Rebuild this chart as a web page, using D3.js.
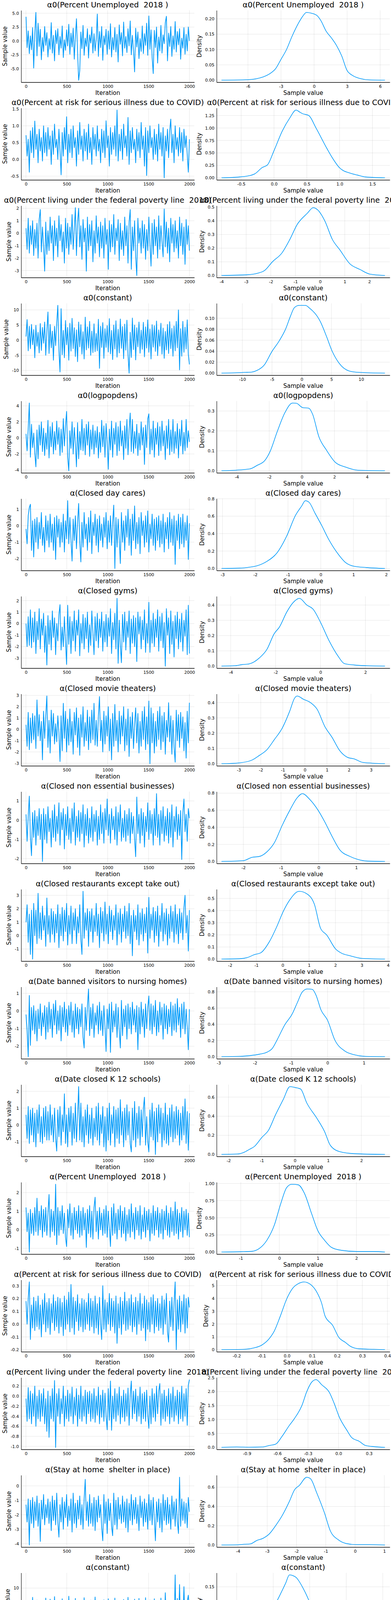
<!DOCTYPE html>
<html><head><meta charset="utf-8">
<script src="https://cdn.jsdelivr.net/npm/d3@7"></script>
<style>body{margin:0;background:#fff}svg{display:block;font-family:"DejaVu Sans",sans-serif}text{white-space:pre}</style>
</head><body><svg id="c" width="1000" height="7500"></svg>
<script>
const iterTickLabels=["0","500","1000","1500","2000"];
const titles=["α0(Percent Unemployed  2018 )","α0(Percent at risk for serious illness due to COVID)","α0(Percent living under the federal poverty line  2018)","α0(constant)","α0(logpopdens)","α(Closed day cares)","α(Closed gyms)","α(Closed movie theaters)","α(Closed non essential businesses)","α(Closed restaurants except take out)","α(Date banned visitors to nursing homes)","α(Date closed K 12 schools)","α(Percent Unemployed  2018 )","α(Percent at risk for serious illness due to COVID)","α(Percent living under the federal poverty line  2018)","α(Stay at home  shelter in place)","α(constant)","α(grocery and pharmacy percent change from baseline)","α(logpopdens)","α(parks percent change from baseline)","α(percentchangebusinesses)","α(residential percent change from baseline)","α(retail and recreation percent change from baseline)","α(transit stations percent change from baseline)","α(workplaces percent change from baseline)","γ","ρ","σR","σR0","σk"];

const trace01=[4.35,-1.2,1.8,-2.3,0.9,-1.6,2.4,-4.9,1.3,5.15,-2.7,3.2,-1.0,2.1,-3.4,0.6,-1.9,2.6,-0.8,1.5,-2.9,0.4,-1.5,3.3,-2.2,1.0,-3.6,1.9,-0.5,2.2,-2.5,0.8,-1.3,2.7,-3.0,0.2,-1.7,2.0,-0.9,3.0,-2.4,1.4,-1.1,2.3,-3.3,0.7,4.0,-2.0,-7.1,-5.35,1.6,-1.4,2.8,-2.6,0.5,-1.0,2.2,-3.1,1.1,-0.4,2.5,-2.2,1.3,-1.8,0.3,4.85,-2.8,1.7,-1.2,2.6,-3.5,0.9,-0.7,2.1,-2.4,1.8,-1.5,3.1,-2.9,0.6,-1.6,2.4,-2.0,1.2,-3.8,2.9,-0.6,1.5,-2.7,3.4,-1.3,0.8,-2.1,2.2,-0.9,3.6,-2.5,1.0,-1.7,-5.6,2.3,-1.1,1.6,-3.2,0.4,-1.9,2.7,-2.3,1.3,-0.8,3.2,-2.6,4.5,-1.5,2.0,-3.0,-5.9,1.9,-1.2,2.5,-4.0,0.7,-1.8,2.8,-2.2,1.1,-0.5,3.3,4.45,-3.6,1.4,-1.0,2.6,-2.8,0.9,-1.5,3.5,-2.0,1.7,-0.7,2.2,-3.3,0.5,-1.3,2.4,-2.4,1.2,-1.8,2.5,0.0];
const trace02=[0.72,0.1,0.6,-0.38,0.85,0.2,0.95,0.05,1.14,0.3,0.75,-0.1,0.9,0.25,0.65,-0.05,1.0,0.2,0.8,0.1,0.95,0.3,0.7,-0.15,0.85,0.15,1.05,0.35,0.6,0.0,0.9,0.25,-0.46,0.8,0.1,0.95,0.3,1.27,-0.1,0.75,0.2,0.9,0.05,1.0,0.35,0.65,-0.2,0.85,0.15,1.1,0.3,0.7,-0.05,0.9,0.25,0.8,0.0,1.05,0.2,0.65,-0.15,0.95,0.3,0.75,0.1,1.0,0.25,0.6,-0.1,0.9,0.2,0.85,0.05,1.15,0.35,0.7,-0.2,0.95,0.15,0.8,0.3,1.0,0.1,1.47,-0.05,0.75,0.25,0.9,0.0,1.05,0.35,0.7,0.1,1.25,-0.15,0.85,0.2,0.95,0.3,0.6,-0.1,0.9,0.25,0.8,0.05,1.1,0.3,0.7,-0.2,0.95,-0.48,0.85,0.2,1.0,0.35,0.65,0.0,0.9,0.15,0.75,-0.05,1.05,0.3,0.8,0.1,0.95,-0.55,0.7,0.25,0.9,0.05,0.85,1.2,0.2,0.75,-0.1,1.0,0.3,0.65,0.1,0.95,0.2,0.8,-0.05,0.9,0.35,0.7,0.15,-0.38,0.6];
const trace03=[0.4,-1.3,1.2,-1.6,0.6,-0.9,1.0,-1.8,0.3,-1.2,0.8,-2.0,1.1,1.9,-1.5,0.5,-1.1,-3.05,0.9,-1.7,0.2,-1.4,1.3,-0.8,0.6,-2.2,1.0,-1.0,0.4,-1.9,1.4,-0.6,0.7,-1.5,0.1,-2.4,1.2,-1.2,0.8,-1.7,0.5,-0.9,1.5,-1.3,0.3,2.05,-1.8,0.9,2.0,-1.1,0.6,-2.1,1.1,-0.7,0.4,-3.05,1.3,-1.4,0.7,-1.0,1.0,-2.3,0.2,-1.6,1.4,-0.8,0.5,-1.9,0.9,-1.2,0.6,-2.0,1.2,-0.9,0.3,-2.9,1.0,-1.5,0.7,-1.1,1.5,-1.7,0.4,-0.6,1.1,-2.2,0.8,-1.3,0.2,-1.8,1.3,-1.0,0.6,-2.4,0.9,1.9,-2.9,0.5,-1.4,1.0,-1.9,-3.4,1.2,-0.8,0.4,-1.6,1.0,-1.2,0.7,-2.1,0.3,-1.4,1.3,-0.9,-2.65,0.8,-1.7,1.1,-1.0,0.5,-2.0,1.4,-1.3,0.6,-0.7,-1.9,1.95,-1.1,0.9,-1.6,0.4,-2.3,1.2,-0.8,0.7,-1.5,1.0,-1.2,0.2,-2.0,1.3,-1.0,0.8,-1.7,0.5,-2.5,1.1,-0.9,0.6,-1.4];
const trace04=[1.2,6.8,-3.5,4.6,-2.8,5.2,-1.5,3.5,-5.8,4.9,-2.0,2.6,-4.2,5.5,-3.4,4.2,-1.0,6.0,-5.0,3.1,9.3,-4.4,5.2,-2.5,3.0,-6.6,4.6,-1.8,5.6,11.5,-3.6,-10.5,10.4,-4.8,3.2,-5.8,6.5,-1.5,4.2,-6.6,5.6,-3.6,7.2,-2.8,4.1,-5.4,3.4,-7.1,6.0,-2.2,5.1,-4.6,2.8,-6.2,7.6,-3.2,4.4,-2.6,6.2,-5.0,3.0,-4.1,5.4,-3.8,2.2,-3.5,6.9,-9.3,4.6,-2.4,5.8,-6.0,3.8,-2.4,4.8,-3.9,7.1,-4.5,3.2,-6.4,5.0,-2.9,6.4,-5.6,3.6,-4.2,7.0,-2.7,4.5,-6.1,5.3,-3.3,6.6,-4.9,-10.9,2.6,-5.7,7.3,-3.1,5.0,-6.5,4.1,-2.2,6.0,-4.3,3.3,-3.0,5.9,-5.5,4.4,-2.6,6.7,-4.0,3.7,-6.2,5.1,-2.3,4.8,-3.7,6.3,-5.1,3.4,-2.0,5.6,-4.6,4.0,-6.0,2.9,-3.2,5.2,-4.4,6.1,-2.8,3.9,-5.3,4.7,-3.5,6.2,-2.5,10.0,-9.8,3.8,-5.3,6.2,-4.0,4.3,-2.9,6.7,-4.8,-8.0];
const trace05=[0.5,-1.6,1.2,4.35,-2.4,1.7,-1.2,0.6,-1.9,-3.6,1.0,-2.6,1.6,-0.9,2.0,-1.7,1.2,-2.2,0.6,-1.4,2.2,-2.5,1.4,-1.1,1.9,-2.0,0.8,-1.5,2.1,-0.8,1.3,-2.2,1.1,-1.8,2.4,-1.0,1.5,3.3,-2.4,-4.1,0.9,-1.3,2.0,-2.0,1.3,-0.7,-3.6,1.9,-2.6,0.8,-1.5,2.3,-1.6,1.2,-2.1,1.7,-0.9,2.0,-2.3,1.0,-1.4,1.6,-2.0,0.9,-1.2,1.4,-2.5,0.7,-1.8,2.2,-1.1,1.5,-2.4,1.8,-0.6,-3.9,1.1,-1.5,2.1,-2.4,1.2,-0.8,1.9,-2.2,1.4,-1.6,2.1,-1.0,0.9,-2.7,1.5,-1.3,2.3,-2.1,1.0,3.1,-1.7,2.3,-1.9,0.8,-1.3,1.7,-2.2,0.6,-1.5,2.0,-0.9,1.3,-3.3,1.6,-1.2,2.4,3.0,-2.0,1.1,-1.5,2.1,-2.4,1.2,-0.8,1.9,-2.2,1.4,-1.6,2.1,-1.0,0.9,-2.7,1.5,-1.3,2.3,-2.1,1.0,-1.7,2.3,-1.9,0.8,-1.3,1.8,-2.5,1.1,-1.0,2.2,-2.0,0.7,-1.6,2.3,-1.2,0.9,-0.5];
const trace06=[-0.2,-1.1,0.6,1.1,1.3,-1.5,0.3,-1.9,0.4,-1.0,0.5,-1.4,0.2,-0.8,0.8,-1.2,-0.1,-1.6,0.6,-0.9,0.3,-1.3,0.7,-1.0,0.1,-1.5,0.5,-2.05,0.6,-0.7,0.4,-1.3,0.2,-1.0,0.7,-1.6,0.3,-0.8,1.52,-1.1,0.5,-0.9,-2.15,0.4,-0.9,0.6,-1.4,0.2,1.35,-1.0,-2.2,0.2,-1.3,0.8,-0.8,0.1,-1.5,0.5,-1.0,0.9,-1.7,0.2,-0.6,0.7,-1.2,0.4,-1.6,0.6,-0.9,0.1,-1.3,0.5,-0.7,0.8,-1.4,0.3,-1.0,0.6,-1.2,0.2,1.25,-2.6,0.5,-1.3,0.4,-0.8,-2.3,0.8,-1.0,0.3,-1.5,0.6,-0.7,1.0,-1.2,0.4,-1.8,0.7,-0.9,1.2,-1.4,0.2,-1.1,0.5,-1.7,0.8,-0.6,0.3,-1.3,0.6,-1.0,0.9,-1.6,0.1,-0.8,0.7,-1.2,0.4,-1.5,0.5,-0.9,0.6,-1.3,0.3,-1.1,0.7,-1.6,0.2,-0.8,0.5,-1.4,0.8,-1.0,0.4,-1.2,0.6,-2.35,0.3,-0.9,0.7,-1.4,0.5,-1.1,0.7,-1.3,0.2,-0.9,0.6,-2.05,0.15];
const trace07=[0.0,-2.0,0.6,-1.9,1.2,-2.1,0.5,-1.6,1.0,-2.6,0.2,-1.4,1.3,-2.2,0.4,-1.0,0.9,-2.5,-0.2,-3.6,0.7,-1.8,0.3,-2.3,1.1,-1.2,0.5,-2.7,0.0,-1.5,0.8,1.65,-2.3,-0.3,-2.0,0.6,-1.6,-3.55,1.6,-1.8,0.6,-2.6,0.2,-1.5,1.1,-2.4,0.3,-1.0,1.2,-2.8,0.0,-1.7,0.8,-2.2,0.5,-1.3,1.0,-2.5,-0.1,-1.9,1.1,-0.8,-2.7,0.6,-1.5,0.9,-2.1,0.4,-1.2,1.0,-2.4,0.2,-1.6,0.8,-2.0,0.5,-1.1,1.3,-2.6,0.1,-1.4,0.9,-2.2,2.2,-3.45,0.3,-1.9,-3.4,0.8,-1.6,1.0,-2.3,0.2,-1.2,1.1,-2.6,0.4,-1.7,0.7,-2.0,0.5,-3.3,1.0,-0.9,0.6,-2.2,0.3,-1.4,1.2,-2.5,0.0,-1.7,1.85,-2.5,0.3,-1.7,0.9,-2.0,0.4,-1.2,1.2,-2.4,0.6,-1.5,0.9,-2.1,0.1,-3.7,1.3,-1.0,0.5,-2.6,1.1,-1.8,0.2,-2.9,0.7,-1.3,1.0,-2.2,0.4,-1.6,0.9,-2.4,0.3,-1.1,1.2,-2.7,1.6,-2.6];
const trace08=[0.4,-1.5,1.5,-1.8,1.0,-1.2,1.4,-0.9,1.2,-1.7,2.6,-0.6,1.3,-1.0,0.7,-2.7,1.6,-0.8,1.2,2.95,-1.6,0.8,-2.1,1.7,-0.6,1.4,-1.3,0.5,-1.1,1.2,-0.3,-2.85,1.2,-1.9,2.3,-0.8,1.6,-2.0,0.9,-1.4,1.8,-1.1,0.7,-2.2,1.5,-0.5,1.9,-1.6,1.0,-2.3,1.3,-0.7,2.0,-1.5,0.6,-1.0,1.7,-1.8,1.1,-1.2,1.7,-0.9,2.3,-1.4,0.8,-1.5,1.2,2.9,-1.0,0.8,-2.0,1.6,-1.3,1.2,-0.6,2.0,-1.9,0.9,-2.7,1.4,-1.5,2.2,-1.0,0.8,-2.0,1.6,-1.3,1.2,-0.6,2.0,-1.9,0.9,-1.4,1.8,-2.4,1.1,-0.8,1.5,-1.7,0.5,1.9,-1.2,1.4,-2.1,0.7,-1.5,1.6,-0.9,2.0,-1.8,1.1,-1.3,2.5,-3.05,1.9,-1.2,1.4,-2.1,0.7,-1.5,1.6,-0.9,2.0,-1.8,1.2,-1.1,1.5,-2.2,0.8,-0.7,2.35,-1.1,1.2,-2.2,0.8,-1.6,-2.9,1.7,-1.0,1.3,-1.6,1.5,-0.8,1.1,-1.9,0.6,-2.55,1.6,-1.2,2.35];
const trace09=[0.3,-1.1,0.2,1.25,-0.9,-1.85,0.4,-0.9,0.5,-1.3,0.2,-0.8,0.6,-1.0,0.3,-2.15,0.6,-1.0,0.3,-1.2,0.7,-0.6,0.1,-1.4,0.5,-0.9,0.8,-1.1,0.2,-0.7,0.9,-1.3,0.4,-0.5,0.6,-1.5,0.3,-0.8,0.7,-1.0,0.1,-1.2,0.6,-0.6,0.9,-1.3,0.2,-0.9,0.5,-1.1,0.4,-0.7,0.8,-1.4,0.3,-0.8,0.6,-1.2,0.1,-0.9,0.7,-1.1,0.3,-0.6,0.5,-1.3,0.2,-1.0,0.8,-0.7,0.4,-1.2,0.6,-0.5,1.1,-0.8,0.3,-1.2,0.6,-0.5,0.2,-1.0,0.7,-1.3,0.4,-0.6,0.8,-1.1,0.1,-0.9,0.5,-1.1,0.3,-0.8,0.6,-1.2,0.4,-0.7,0.2,-1.0,-1.9,1.2,-0.7,0.3,-1.2,0.6,-0.8,0.4,-1.4,0.2,-0.6,0.9,-1.0,0.5,-0.7,0.3,-1.3,0.6,-0.8,1.38,-0.9,0.3,-1.3,0.5,-0.7,0.7,-1.1,0.2,-0.8,0.6,-1.2,0.4,-0.9,0.8,-1.4,0.2,-0.6,0.7,-1.0,0.3,-0.8,0.5,-2.05,0.4,1.1,-0.6,0.3,-1.1,0.6,0.1];
const trace10=[1.0,2.3,-0.5,1.6,-1.4,1.9,-1.75,2.4,0.0,1.9,-0.6,3.15,-0.2,1.7,-0.3,2.2,0.4,1.5,-0.8,2.8,0.1,1.5,-0.5,2.0,0.1,1.8,-0.5,1.6,0.2,2.3,-0.9,1.6,0.0,2.1,-0.4,1.9,0.3,2.4,-0.7,1.5,0.1,2.2,-0.6,1.7,0.4,2.0,-0.6,1.4,0.2,2.3,-0.3,-1.4,3.3,-0.2,1.7,0.4,2.0,-0.8,1.8,0.3,2.0,-0.5,1.5,0.3,2.4,0.0,1.6,-0.9,2.1,0.2,1.8,-0.4,2.5,0.1,1.6,-0.6,2.2,0.3,1.9,-0.3,1.5,0.4,2.3,-0.7,1.7,0.1,2.0,-0.5,1.6,0.3,2.2,-0.2,1.8,0.0,2.4,-0.6,1.5,-1.5,1.9,0.3,1.5,-0.3,2.3,-0.7,1.7,0.1,2.0,-0.4,1.6,0.2,2.1,-1.3,2.85,-0.2,1.6,0.4,2.1,-0.5,1.8,0.0,2.2,-0.8,1.5,0.3,2.4,-0.4,1.7,0.1,2.0,-0.7,1.6,-0.2,2.2,0.3,1.8,-0.5,2.3,0.1,1.6,-0.6,2.0,0.2,1.7,-0.3,2.1,3.0,0.2,1.5,-1.15,1.9];
const trace11=[-0.2,-1.1,-2.6,0.88,-1.95,0.2,-1.1,0.3,-1.3,0.0,-1.7,0.1,-1.0,0.4,-1.4,-0.1,-0.9,0.3,-1.6,0.2,-1.2,0.5,-1.0,0.1,-1.5,0.4,-0.8,0.6,-1.3,0.0,-1.1,0.3,-1.7,0.2,-0.9,0.5,-1.2,0.1,-1.4,0.3,-0.8,0.5,-1.2,0.0,-1.5,0.4,-1.0,0.2,-1.3,0.1,-0.9,0.4,-1.5,-2.1,0.2,-1.1,0.3,1.25,-1.4,0.2,-1.0,0.4,-1.5,-0.1,-0.8,0.3,-1.3,0.5,-1.1,0.0,-1.4,0.3,-0.9,-2.3,0.1,-1.0,0.4,-2.35,0.5,-1.2,0.0,-0.9,0.4,-1.5,0.2,-1.1,-2.1,0.6,-1.4,0.1,-0.9,0.3,-1.6,0.4,-1.0,0.2,-1.3,0.5,-0.8,0.1,-1.2,0.3,-2.2,0.2,-1.3,0.5,-0.9,0.1,-1.5,0.4,-1.0,0.2,0.85,-1.1,0.4,-1.3,0.3,-0.9,0.6,-1.4,0.0,-1.2,0.5,-0.8,0.2,-1.6,0.4,-1.0,0.3,-1.3,0.1,-0.9,0.5,-1.4,0.3,-1.1,0.4,-1.2,0.7,-0.8,0.2,-1.5,0.4,-1.0,0.5,-1.3,0.1,-0.9,-2.2,0.1];
const trace12=[0.6,-0.8,1.1,-1.1,0.9,-0.6,1.0,-1.0,0.7,-1.3,0.9,-0.5,1.2,-1.0,0.5,-1.1,1.0,-0.7,1.1,-0.9,0.8,-0.9,1.2,-0.6,0.6,-1.0,1.0,-0.8,-1.55,0.9,-0.7,1.1,-1.2,0.6,-0.4,1.85,-1.1,0.6,-1.3,1.0,-0.4,1.1,-1.2,0.7,-0.8,1.3,-1.0,0.5,2.28,-0.9,1.3,-1.0,0.5,-1.3,0.9,-0.6,1.2,-1.1,0.6,-0.8,1.0,-1.2,0.4,-0.7,1.1,-0.9,1.3,-1.2,0.6,-0.5,1.1,-1.3,0.5,-1.55,1.0,-0.9,1.3,-1.2,0.6,-0.5,1.1,-1.3,0.9,-0.8,1.0,-1.1,1.5,-0.6,0.8,-1.3,1.0,-0.9,1.2,-0.6,0.8,-1.1,-1.6,1.0,-0.9,1.4,-1.3,0.7,-0.8,1.1,-1.2,0.9,-0.7,1.0,1.65,-1.2,0.5,-1.0,-1.6,0.9,-0.7,1.3,-0.9,0.8,-1.75,1.0,-1.0,1.2,-0.5,1.0,-1.3,0.7,-0.9,1.3,-1.1,0.6,-1.2,1.0,-0.7,1.2,-1.0,0.8,-0.8,1.1,-0.6,0.9,-1.2,0.7,-0.9,1.1,-0.6,1.55,-1.1,0.8,-1.5,0.7];
const trace13=[1.2,-0.1,0.9,-1.2,1.1,-0.2,0.9,-0.3,1.2,-0.1,1.7,-0.3,1.0,0.0,1.3,-0.4,1.1,-0.1,1.2,-0.3,0.9,1.9,-0.4,1.1,-0.1,1.0,-0.3,2.45,-0.8,1.2,-0.3,1.0,0.0,1.3,-0.2,0.9,-0.4,-0.9,1.1,0.1,1.4,-0.3,0.9,-0.5,1.2,0.0,1.0,-0.2,1.3,-0.4,1.0,-0.3,1.2,0.0,0.9,-0.95,1.1,-0.2,1.3,-0.4,1.0,-0.5,1.2,1.75,-0.1,1.0,-0.5,1.2,0.0,0.9,-0.3,1.1,-0.2,1.3,-0.4,1.0,0.1,-0.9,1.2,-0.3,1.4,-0.2,0.9,-0.5,1.1,0.0,1.3,-0.4,1.0,-0.2,1.2,-0.6,0.8,-0.2,1.1,-0.4,1.4,-0.1,0.9,-0.5,1.2,0.0,1.0,-0.3,1.3,-0.5,0.8,-0.1,1.2,-0.4,1.0,0.0,1.1,-0.6,0.9,-0.2,1.3,-0.3,1.0,0.0,1.2,-0.4,0.9,-0.2,1.1,-0.5,1.0,0.0,1.3,-0.3,0.9,-0.4,1.2,-0.1,1.0,-0.3,1.5,-0.2,1.1,-0.5,0.9,-0.1,1.2,-0.4,1.0,0.0,1.1,-0.3,0.9,-0.4];
const trace14=[0.18,0.0,0.2,0.33,-0.12,0.15,-0.03,0.21,-0.05,0.18,-0.02,0.22,-0.04,0.15,-0.1,0.19,0.0,0.24,-0.06,0.17,-0.03,0.2,-0.08,0.16,0.01,0.23,-0.05,0.18,-0.02,0.21,-0.07,0.2,-0.02,0.17,-0.09,0.22,-0.04,0.19,0.0,0.25,-0.06,0.31,-0.03,0.21,-0.08,0.18,0.02,0.23,-0.05,0.16,-0.02,0.2,-0.06,0.19,-0.04,0.17,0.0,0.24,-0.05,0.2,-0.02,0.18,-0.07,0.22,-0.03,0.16,-0.08,0.21,0.0,-0.12,0.3,-0.04,0.19,-0.06,0.17,0.0,0.24,-0.05,0.2,-0.02,0.18,-0.07,0.22,-0.15,0.16,-0.03,0.21,-0.08,0.18,0.0,0.25,-0.05,0.18,-0.04,0.2,-0.01,0.23,-0.06,0.17,-0.02,0.21,-0.08,0.18,0.0,0.24,-0.05,0.16,-0.03,0.22,-0.13,0.19,-0.04,0.17,-0.06,0.21,0.0,0.23,-0.07,0.18,-0.02,0.2,-0.05,0.16,-0.03,0.22,-0.08,0.19,0.0,0.24,-0.06,-0.14,0.18,-0.02,0.21,-0.05,0.17,0.33,-0.2,0.19,-0.04,0.22,-0.06,0.18,0.0,0.23,-0.07,0.2,-0.03,0.21,0.13];
const trace15=[-0.05,-0.5,0.17,-0.45,0.1,-0.55,0.05,-0.4,0.2,-0.6,0.0,-0.45,0.12,-0.5,0.05,-0.4,0.15,-0.55,-0.05,-0.7,0.1,-0.82,0.0,-0.45,0.15,-0.5,0.31,-1.02,0.05,-0.4,0.15,-0.55,-0.05,-0.35,0.2,-0.6,0.0,-0.45,0.12,-0.5,0.05,-0.4,0.18,-0.55,-0.02,-0.38,0.15,-0.6,0.02,-0.45,0.2,-0.5,0.0,-0.4,0.12,-0.55,0.08,-0.35,0.1,-0.5,0.05,-0.45,0.15,-0.52,0.0,-0.38,0.18,-0.55,0.02,-0.42,0.12,-0.5,0.06,-0.4,-0.67,0.15,-0.48,0.3,-0.68,0.0,-0.45,0.15,-0.5,0.05,-0.38,0.18,-0.55,0.0,-0.42,0.12,-0.5,0.05,-0.4,0.16,-0.58,0.02,0.3,-0.45,0.1,-0.35,0.14,-0.5,0.0,-0.4,0.18,-0.55,0.05,-0.45,0.08,-0.5,0.12,-0.38,-0.64,0.0,-0.55,0.15,-0.42,0.05,-0.5,0.2,-0.35,0.1,0.25,-0.58,0.05,-0.45,0.12,-0.5,0.0,-0.4,0.15,-0.55,0.05,-0.42,0.18,-0.5,0.0,-0.38,0.12,-0.55,0.08,-0.45,0.2,-0.5,0.05,-0.4,0.15,-0.58,0.22,0.33];
const trace16=[-1.3,-2.5,-0.9,-4.1,-1.0,-2.6,-0.8,-2.9,-1.1,-2.4,-0.7,-2.8,-1.2,-3.85,-1.0,-2.3,-0.6,-2.7,-1.3,-2.2,-0.9,-2.6,-1.1,-3.1,-0.7,-2.4,-1.0,-2.7,-0.5,-2.5,-3.55,-1.3,-2.5,-0.8,-3.0,-1.1,-2.2,-0.6,-2.8,-1.4,-2.4,-0.9,-3.2,-0.5,-2.6,-1.2,-2.9,-1.0,-2.3,-0.7,-2.7,-1.3,-3.0,-0.9,0.45,-2.4,-1.1,-2.8,-0.6,-2.6,-1.2,-2.8,-0.8,-3.1,-1.0,-2.5,-0.7,-2.2,-1.3,-2.9,-3.8,-0.6,-2.6,-1.1,-3.3,-0.9,-2.4,-1.2,-2.8,-3.45,-0.5,-2.7,-1.0,-3.0,-0.8,-2.3,-1.3,-2.6,-0.7,-2.5,-1.1,-2.9,-0.9,-3.2,-1.2,-2.4,-0.6,-2.7,-1.0,-2.3,-0.8,-2.6,-1.3,-3.1,-0.7,-2.2,-1.1,-2.8,-0.9,-2.5,-1.2,-3.0,-0.6,-2.4,-1.0,-2.7,-0.8,-2.3,-3.8,-1.1,-2.5,-0.9,-2.9,-1.2,-3.2,-0.6,-2.4,-1.0,-2.7,-0.8,-2.6,-1.3,-3.0,-0.7,-2.3,-1.1,-2.8,-0.9,-2.5,-3.3,0.6,-2.8,-0.9,-2.4,-1.1,-2.6,-1.2,-2.9,-0.8,-1.8];
const trace17=[3.5,-0.3,6.3,-1.2,5.4,0.2,7.4,-2.2,5.9,0.6,6.6,-1.6,4.8,-2.9,6.1,0.3,5.2,-1.0,7.2,-0.4,5.8,0.0,6.9,-1.8,5.1,1.0,7.6,-1.4,6.0,-0.6,-4.2,5.5,-2.1,7.0,0.8,6.2,-1.1,4.9,-2.6,7.7,0.4,6.4,-1.5,5.3,-0.2,7.1,-2.3,5.7,1.1,6.5,-1.9,5.0,-0.8,7.3,0.3,6.0,-2.7,5.4,-0.5,6.6,-1.3,5.6,0.5,7.5,-2.0,5.2,-0.7,6.3,-1.6,4.7,0.9,6.7,-0.9,5.9,-2.4,7.0,0.1,5.5,-1.4,6.1,-0.3,7.2,-2.2,5.8,0.6,6.4,-1.8,5.1,-0.1,6.8,-4.7,5.3,-1.0,7.4,0.2,6.0,-2.5,5.7,-0.6,6.9,-1.5,5.2,0.7,7.1,-2.1,6.2,-0.4,5.6,-1.2,7.3,-3.0,5.9,0.4,6.6,-1.7,5.4,-0.2,7.0,-2.0,6.1,0.3,5.5,-1.1,7.2,-0.8,6.3,-2.4,8.7,0.5,6.0,-1.3,-3.3,5.8,0.6,6.4,-1.5,13.7,-5.3,7.1,-0.9,11.0,-1.8,6.6,0.2,10.4,-0.9,-3.0,6.2,8.0,3.0];
const trace18=[-1.0,-4.9,0.7,-3.6,0.4,-4.2,-0.2,-3.1,0.6,-3.8,0.1,-4.5,-0.5,-6.5,1.3,-4.0,2.2,-3.5,0.8,-4.6,-0.4,-3.0,1.0,-3.7,0.2,-4.8,-0.6,-3.3,1.2,-3.2,0.3,-4.9,-0.3,-3.4,0.5,-4.0,-0.2,2.35,-3.6,1.1,-4.4,0.4,-3.1,-0.7,-4.2,1.5,-3.8,0.9,-4.5,-0.4,-3.3,0.2,-4.7,-0.6,-3.5,1.3,2.8,-6.6,0.0,-3.9,0.6,-4.4,-0.3,-3.2,1.0,-4.8,-0.2,-3.6,-6.7,0.7,-4.0,1.2,-3.4,0.3,-4.3,-0.5,-3.7,-5.8,-5.9,0.8,-3.2,-0.1,-4.1,1.1,-3.5,0.4,2.6,-4.4,-0.3,-3.0,1.3,-3.9,0.0,-4.6,0.5,-3.3,-0.6,-4.2,0.9,-3.6,0.2,-4.8,-0.4,-3.1,1.2,-4.0,-0.1,-3.7,0.6,-4.5,0.3,-3.4,1.0,-4.3,-0.5,-3.8,0.7,-4.1,0.1,-6.25,0.4,-3.5,-0.2,-4.6,1.1,-3.2,0.0,3.4,-4.4,0.8,-3.7,-0.3,-4.2,1.2,-3.3,0.5,-4.7,-0.6,-3.6,0.9,-4.0,0.2,-3.4,1.0,-4.5,-0.1,-3.1,0.6,-3.9,-2.5];
const trace19=[0.95,0.4,1.05,0.35,1.3,0.45,1.0,0.3,1.1,0.5,0.95,0.25,1.15,0.4,1.0,0.3,1.2,0.45,0.9,1.82,0.35,1.05,0.5,1.2,0.25,1.0,0.4,1.1,0.3,1.25,1.52,0.35,1.05,0.5,1.2,0.3,0.95,0.45,1.15,0.25,1.0,0.4,1.1,0.3,1.25,0.1,0.95,0.5,0.07,1.1,1.72,0.35,1.05,0.5,1.2,0.3,0.95,0.45,1.1,0.3,1.15,0.4,0.0,1.65,0.35,1.05,0.25,1.2,0.45,0.9,0.3,1.15,0.4,1.05,0.25,1.2,0.5,0.95,0.35,1.1,0.3,1.3,0.45,1.0,0.35,1.15,0.25,1.05,0.5,1.2,0.4,0.95,0.3,1.1,0.45,1.25,0.35,1.05,0.3,1.0,0.4,1.2,0.3,1.1,0.5,0.95,0.35,1.2,0.45,1.0,0.3,1.15,0.4,1.45,0.35,1.05,0.5,0.9,-0.02,1.0,0.4,1.2,0.3,1.1,0.5,0.95,0.35,1.2,0.45,1.0,0.3,1.15,0.4,1.05,0.35,1.2,0.5,0.95,0.4,1.1,0.35,1.05,0.3,1.2,0.45,1.0,0.4,1.1,0.5,0.8];
const trace20=[0.05,-0.6,0.1,-0.65,0.4,-0.85,0.2,-0.5,0.3,-0.7,0.8,-0.4,0.25,-0.55,0.5,-0.6,0.15,-0.75,0.35,1.12,-1.0,0.25,-0.45,0.6,-0.8,0.2,-0.5,0.45,-0.65,0.1,-0.7,0.4,-0.5,0.3,-0.7,0.55,-0.4,0.15,-0.85,0.4,-0.55,0.25,-0.6,-0.98,0.45,-0.5,0.1,-0.75,0.35,-0.45,0.6,-0.7,0.2,-0.5,0.45,-0.65,0.1,0.8,-1.0,0.25,-0.55,0.45,-0.6,0.1,-0.75,0.35,-0.45,0.6,-0.7,0.2,-0.5,0.3,-0.65,0.5,-0.4,0.15,-0.8,-1.02,1.05,-0.5,0.3,-0.65,0.5,-0.4,0.15,-0.8,0.4,-0.55,0.25,-0.7,0.6,-0.45,0.2,-0.5,0.45,-0.6,0.1,-0.75,0.35,-1.17,0.2,-0.5,0.45,-0.6,0.1,-0.75,0.35,-0.45,0.5,-0.65,0.2,-0.85,0.4,-0.5,0.3,-0.7,0.55,-0.4,0.15,-0.6,0.35,-0.8,0.25,-0.5,0.45,-0.55,0.2,-0.65,0.7,-0.4,0.3,-0.7,0.5,-0.45,0.2,-0.6,0.35,-0.5,0.4,-1.12,0.2,-0.65,0.5,-0.55,0.3,-0.75,0.35,-0.4,0.25,0.35];
const trace21=[1.5,-0.9,2.0,-1.4,1.2,-2.6,1.8,-1.1,1.7,3.6,-0.5,2.2,-1.8,1.0,-1.2,2.6,-0.7,1.5,-2.2,2.0,-1.0,1.6,-1.5,2.3,-0.8,1.8,-2.0,1.1,-1.3,2.5,4.85,-3.1,1.4,-1.5,2.3,-0.8,1.8,-2.2,1.1,-1.3,-2.7,2.5,-0.6,1.6,-2.0,2.1,-1.1,1.9,-1.6,1.3,-0.9,2.4,-2.3,1.7,3.5,-1.0,2.0,-1.5,1.2,-2.4,2.2,-0.7,1.6,-1.2,2.5,-0.6,1.8,-2.1,1.3,-1.2,2.2,-0.9,1.9,-1.7,2.4,-3.3,1.5,-2.1,2.0,-1.0,3.6,-0.8,2.3,-1.9,1.4,-1.1,2.1,-1.6,1.7,-1.4,-3.3,1.6,-1.4,2.5,-0.6,1.8,-2.0,1.3,-1.2,-2.8,2.2,-0.9,1.9,-1.7,2.4,-0.7,1.5,-2.1,2.0,-1.0,1.7,-1.6,2.3,-0.8,1.4,-2.0,2.6,-1.1,1.6,-1.4,2.1,-0.6,1.8,-1.8,2.4,-1.2,1.5,-2.3,1.9,-0.9,2.2,-1.5,1.3,-2.0,2.1,-0.7,1.7,-1.9,2.4,-1.1,1.6,-1.6,2.0,-2.85,3.6,-1.2,3.7,-1.9,1.4,0.6];
const trace22=[4.8,-1.0,5.8,-3.3,6.9,-0.5,5.5,-2.6,7.2,0.2,6.0,-2.0,6.4,-1.2,7.4,-0.2,5.6,10.0,-2.4,6.8,-4.5,5.2,-4.8,7.1,-0.8,6.2,-2.2,5.4,0.0,7.6,-1.5,6.5,-2.9,5.0,-0.4,6.9,-1.9,-4.0,7.3,0.3,5.7,-2.7,6.6,-1.0,8.2,-0.6,5.9,-2.3,6.3,-1.4,7.0,-2.3,6.1,0.1,8.0,-1.7,5.3,-2.9,6.7,-0.3,7.8,-1.2,5.8,-2.5,8.6,0.4,6.0,-1.8,7.5,-0.9,5.4,-2.6,6.9,-3.8,8.4,-1.3,6.2,-2.1,7.3,-0.5,9.5,-1.6,6.5,-2.8,6.4,0.0,8.9,-1.6,6.7,-0.9,7.1,-2.4,5.9,-1.1,7.8,-2.8,6.4,0.0,8.2,-1.6,6.7,-2.0,5.6,-1.1,7.8,-2.8,6.4,0.0,8.9,-1.6,6.7,-0.9,7.3,-2.2,5.8,-1.4,8.0,-0.5,6.3,-2.6,7.0,10.7,-0.8,6.1,-1.9,7.7,-0.2,5.5,-2.3,6.8,-7.4,13.7,-5.9,5.6,-1.1,7.8,-2.8,6.4,0.0,8.9,-1.6,6.7,-0.5,7.2,-2.1,6.0,-1.0,7.5,9.0,-0.9];
const trace23=[3.2,-2.4,3.8,-1.6,4.2,-2.8,5.0,-1.9,2.9,-1.4,-4.3,3.6,-3.2,2.4,-1.2,5.1,-2.6,3.3,-3.5,2.0,-1.4,4.0,-2.9,3.1,-1.0,3.7,-3.8,2.6,-2.0,4.4,-1.5,3.0,-3.1,2.2,-2.5,3.8,-1.3,4.1,-3.4,2.7,-2.2,3.5,-1.1,4.6,-2.7,3.0,-1.8,3.9,-2.4,5.9,-1.6,3.2,-2.1,4.3,-1.4,2.9,-3.3,3.6,-2.6,4.0,-1.2,3.4,-2.8,3.1,-1.7,4.5,-3.0,2.6,-2.3,3.4,8.1,-2.0,3.7,-1.5,4.2,-3.6,2.8,-2.2,3.9,-4.4,3.3,6.2,-1.9,-5.7,4.0,-2.4,2.9,-4.9,3.5,-1.2,3.6,-2.8,3.1,-1.7,4.5,-3.0,2.6,-2.3,3.4,-2.0,3.7,-1.5,4.2,-3.6,7.4,-2.2,3.9,-1.0,3.3,-2.7,3.3,-1.9,4.0,-2.4,2.9,-5.2,3.5,-1.2,6.0,-2.0,3.7,-1.5,4.2,-3.6,2.8,-2.2,3.9,-1.0,3.3,-2.7,3.3,-1.9,4.0,6.9,-2.4,2.9,-3.1,3.5,-1.2,4.1,-2.5,3.1,-1.6,3.8,-2.9,2.7,-4.6,3.5,-1.2,3.3];
const trace24=[5.8,1.1,5.6,-0.3,7.0,1.5,6.1,2.0,7.8,0.5,9.2,-1.5,6.5,1.8,7.2,0.8,6.0,2.2,7.5,0.9,6.3,1.4,7.7,0.3,6.8,1.6,7.1,2.3,5.9,1.2,7.4,0.7,6.6,2.0,7.9,0.6,6.2,-2.7,7.3,1.7,6.9,2.1,-0.7,7.6,1.0,6.4,1.5,7.1,0.4,10.15,1.2,6.7,2.2,7.8,0.9,6.3,1.9,7.0,1.3,6.5,0.8,7.2,1.6,6.8,2.0,7.4,1.1,6.1,1.8,7.7,0.6,6.9,2.3,7.3,0.3,6.4,1.4,7.0,0.9,7.6,1.7,6.2,0.7,7.9,-1.2,6.7,1.5,7.1,0.4,6.6,2.0,7.4,-0.5,6.8,1.2,7.2,1.6,6.0,2.1,8.3,0.8,6.5,1.9,7.6,1.0,6.3,2.2,7.0,0.5,6.9,1.4,7.7,0.9,6.4,2.0,7.3,1.1,6.6,1.7,7.5,0.6,6.8,2.3,7.1,1.3,6.2,0.8,7.8,1.5,6.7,2.1,7.2,0.3,6.5,1.6,7.6,1.0,6.9,1.9,8.5,-0.9,7.1,1.2,6.4,10.1,2.0,7.3,1.4,6.2,1.9];
const trace25=[3.2,-0.5,3.9,-0.9,4.7,-1.3,-2.5,3.6,0.2,4.3,-1.6,5.2,-0.4,3.4,-1.9,4.8,0.1,3.7,-1.1,5.0,-0.8,4.5,-1.5,3.9,0.3,4.4,-1.0,5.0,-1.7,6.2,0.0,4.6,-1.2,5.3,-0.6,3.8,-1.8,8.1,-3.5,4.4,0.4,5.5,-0.9,3.7,-1.4,4.9,0.1,3.3,-1.1,4.6,-0.3,5.1,-1.6,4.2,0.2,4.8,-1.3,3.6,-0.5,4.4,-1.7,3.8,-0.7,7.4,-2.5,4.1,-1.5,3.5,0.0,5.4,-1.2,4.3,-0.6,3.7,-1.8,-1.9,4.9,-0.4,4.0,7.1,-1.3,5.2,-0.9,3.6,0.1,4.5,-1.6,3.8,-0.8,5.0,-1.2,4.2,-0.5,3.9,-1.4,4.7,0.2,6.8,-1.0,4.4,-1.7,3.8,-0.6,5.0,-2.4,4.1,-1.5,3.5,0.0,5.4,-1.2,4.3,-0.6,3.7,-1.8,4.9,-0.4,4.0,-1.3,5.2,-0.9,3.6,0.1,4.5,-1.6,3.8,-0.8,5.0,-1.2,4.2,-0.5,3.9,-1.4,4.7,0.2,4.4,-1.0,3.8,-0.7,5.1,-1.6,4.2,-0.3,4.8,-1.1,7.3,-0.5,4.2,0.3,1.2];
const trace26=[0.107,0.076,0.11,0.067,0.104,0.072,0.118,0.062,0.108,0.07,0.12,0.074,0.103,0.068,0.116,0.07,0.112,0.064,0.109,0.06,0.119,0.071,0.106,0.063,0.115,0.069,0.137,0.073,0.111,0.066,0.121,0.065,0.108,0.07,0.117,0.062,0.11,0.072,0.12,0.064,0.106,0.069,0.116,0.067,0.108,0.137,0.071,0.105,0.063,0.114,0.07,0.119,0.066,0.109,0.143,0.058,0.112,0.068,0.106,0.072,0.12,0.064,0.11,0.069,0.116,0.067,0.108,0.071,0.121,0.063,0.105,0.07,0.058,0.114,0.066,0.119,0.074,0.109,0.065,0.112,0.069,0.117,0.064,0.107,0.072,0.122,0.066,0.11,0.061,0.118,0.07,0.14,0.144,0.0575,0.112,0.069,0.117,0.064,0.107,0.072,0.122,0.066,0.11,0.061,0.118,0.07,0.106,0.065,0.115,0.068,0.12,0.063,0.111,0.07,0.108,0.062,0.117,0.067,0.113,0.071,0.109,0.066,0.119,0.1435,0.07,0.112,0.064,0.106,0.07,0.118,0.074,0.11,0.067,0.116,0.063,0.108,0.071,0.0555,0.119,0.066,0.112,0.064,0.106,0.07,0.118,0.068,0.11,0.072,0.116,0.091];
const trace27=[0.738,0.755,0.722,0.758,0.718,0.752,0.693,0.756,0.724,0.701,0.775,0.728,0.751,0.716,0.765,0.726,0.757,0.72,0.76,0.73,0.754,0.714,0.763,0.725,0.75,0.719,0.768,0.729,0.755,0.717,0.759,0.727,0.752,0.712,0.764,0.723,0.756,0.72,0.761,0.731,0.753,0.715,0.766,0.724,0.75,0.718,0.762,0.721,0.757,0.727,0.765,0.716,0.75,0.724,0.759,0.712,0.756,0.728,0.762,0.718,0.753,0.722,0.767,0.715,0.754,0.729,0.758,0.714,0.761,0.723,0.752,0.72,0.757,0.71,0.689,0.779,0.722,0.757,0.713,0.755,0.6865,0.751,0.716,0.764,0.728,0.755,0.713,0.76,0.721,0.753,0.777,0.725,0.76,0.717,0.756,0.719,0.749,0.726,0.763,0.719,0.754,0.694,0.758,0.729,0.761,0.714,0.752,0.723,0.765,0.716,0.75,0.724,0.759,0.712,0.756,0.728,0.762,0.718,0.753,0.772,0.722,0.767,0.715,0.754,0.727,0.758,0.714,0.761,0.723,0.752,0.72,0.757,0.727,0.765,0.716,0.75,0.724,0.759,0.712,0.756,0.728,0.762,0.718,0.753,0.722,0.767,0.715,0.754,0.7795,0.698];
const trace28=[3.4,2.6,3.7,2.5,4.0,2.7,3.6,2.4,4.5,2.8,3.9,2.5,4.1,2.6,3.8,2.3,4.2,2.7,3.6,2.5,4.55,2.6,3.8,2.3,4.2,2.7,3.6,2.5,4.3,2.8,3.9,2.6,4.1,2.05,3.9,2.6,4.3,4.6,2.8,4.0,2.5,3.7,2.1,3.7,2.6,4.2,2.4,3.8,2.7,4.4,2.5,3.9,2.7,4.1,1.9,4.85,2.5,3.9,2.7,4.1,2.3,3.7,2.8,4.3,2.5,4.0,2.6,3.8,2.4,4.2,2.7,3.6,2.5,4.4,2.8,3.9,2.3,4.2,2.6,3.8,2.4,4.1,2.7,3.7,2.5,4.3,2.6,3.9,2.8,4.9,2.6,4.0,1.92,4.1,2.7,3.8,2.4,4.3,2.6,3.7,2.5,4.2,2.8,3.9,2.4,4.1,2.6,3.6,2.7,4.4,2.5,3.8,2.6,4.0,2.4,3.7,2.8,4.3,2.5,3.9,2.7,4.2,2.0,3.8,2.6,4.0,2.4,3.7,2.8,4.3,2.5,3.9,2.6,4.2,2.7,3.8,2.4,5.0,2.6,4.6,2.5,3.8,2.7,4.1,2.4,4.5,2.6,3.9,2.5,3.0];
const trace29=[8.9,7.2,11.0,6.8,12.0,6.3,10.8,7.4,11.5,12.5,6.9,4.85,10.9,6.5,11.7,7.3,10.4,6.7,11.9,12.6,7.4,10.6,6.2,11.3,7.1,12.1,5.5,10.7,6.6,11.6,7.5,10.7,6.4,11.8,6.9,10.5,7.2,11.4,6.1,12.2,7.0,10.9,6.3,5.2,11.5,7.3,10.7,6.8,11.1,6.5,11.6,7.1,10.4,6.2,11.9,14.0,7.4,11.2,6.7,10.8,6.0,11.9,7.2,10.6,6.4,11.4,7.6,5.2,12.0,6.8,10.8,13.3,6.1,11.3,7.0,11.7,6.5,5.3,12.7,7.3,10.5,6.6,11.6,7.1,10.9,6.3,11.0,13.8,7.4,10.6,6.5,11.8,6.0,14.2,7.0,10.9,6.6,11.5,7.2,10.4,6.3,11.7,7.3,10.8,6.1,11.2,6.9,12.0,7.5,10.6,6.4,11.4,7.1,10.9,6.7,11.8,6.2,10.5,7.0,11.3,6.6,12.9,7.4,5.1,11.6,7.1,10.7,6.3,13.9,7.0,11.0,6.5,11.8,7.2,10.6,6.0,11.5,6.8,10.9,7.3,11.7,6.4,10.8,7.0,11.2,6.2,11.6,6.9,10.4,8.0];
const trace30=[0.015,0.002,0.024,0.004,0.031,0.001,0.02,0.006,0.027,0.001,0.018,0.003,0.029,0.0,0.022,0.005,0.033,0.002,0.019,0.0,0.025,0.004,0.021,0.001,0.03,0.003,0.017,0.0,0.026,0.002,0.02,0.0465,0.0525,0.002,0.023,0.0,0.028,0.004,0.019,0.001,0.031,0.003,0.022,0.0,0.026,0.048,0.002,0.018,0.005,0.024,0.0475,0.001,0.027,0.003,0.02,0.044,0.0,0.025,0.004,0.018,0.03,0.002,0.021,0.0,0.028,0.005,0.017,0.001,0.032,0.003,0.022,0.0,0.026,0.004,0.019,0.002,0.029,0.001,0.023,0.005,0.034,0.002,0.02,0.0,0.025,0.003,0.018,0.001,0.027,0.0478,0.002,0.021,0.004,0.028,0.046,0.001,0.019,0.003,0.024,0.0,0.03,0.051,0.002,0.022,0.005,0.026,0.001,0.018,0.003,0.031,0.0,0.023,0.004,0.02,0.002,0.035,0.001,0.025,0.003,0.019,0.0,0.043,0.002,0.027,0.004,0.021,0.001,0.033,0.003,0.024,0.0,0.02,0.005,0.029,0.002,0.023,0.001,0.036,0.004,0.018,0.0,0.026,0.003,0.022,0.001,0.03,0.044,0.002,0.025,0.023];

const dens01=[[-8.4,0],[-6.03,0.0017],[-4.6,0.011],[-3.9,0.024],[-3.5,0.037],[-3.0,0.068],[-2.5,0.1],[-2.0,0.143],[-1.4,0.187],[-1.04,0.208],[-0.69,0.221],[-0.33,0.219],[0.26,0.211],[0.62,0.194],[1.09,0.16],[1.57,0.138],[2.04,0.113],[2.51,0.079],[2.99,0.032],[3.46,0.016],[4.18,0.0055],[5.0,0.001],[6.43,0]];
const dens02=[[-0.8,0],[-0.52,0.019],[-0.37,0.045],[-0.29,0.083],[-0.18,0.207],[-0.1,0.26],[0,0.546],[0.126,0.94],[0.24,1.2],[0.336,1.36],[0.39,1.32],[0.43,1.29],[0.53,1.25],[0.64,1.0],[0.81,0.58],[0.885,0.41],[1.0,0.2],[1.16,0.094],[1.27,0.056],[1.39,0.019],[1.69,0]];
const dens03=[[-4,0],[-2.96,0.0055],[-2.55,0.016],[-2.25,0.037],[-1.94,0.099],[-1.54,0.167],[-1.23,0.263],[-0.93,0.373],[-0.52,0.455],[-0.28,0.496],[-0.11,0.482],[0.19,0.4],[0.5,0.263],[0.8,0.188],[1.21,0.085],[1.62,0.044],[2.02,0.01],[2.63,0]];
const dens04=[[-13.5,0],[-10.9,0.0007],[-9.66,0.0014],[-8.4,0.002],[-7.56,0.0048],[-6.3,0.015],[-5.04,0.039],[-3.78,0.059],[-2.73,0.08],[-1.89,0.104],[-1.26,0.119],[-0.42,0.1235],[0.63,0.1235],[1.26,0.119],[3.15,0.0935],[4.2,0.066],[5.04,0.042],[6.3,0.018],[7.98,0.004],[9.66,0.0014],[14,0]];
const dens05=[[-4.93,0],[-3.2,0.0095],[-2.73,0.028],[-2.27,0.052],[-1.96,0.095],[-1.5,0.199],[-1.03,0.293],[-0.57,0.34],[-0.34,0.339],[0.05,0.317],[0.43,0.314],[0.66,0.284],[1.05,0.17],[1.51,0.104],[2.05,0.043],[2.67,0.019],[3.44,0.003],[5.1,0]];
const dens06=[[-3.03,0],[-2.48,0.004],[-2.18,0.015],[-1.95,0.03],[-1.65,0.08],[-1.34,0.177],[-1.04,0.372],[-0.77,0.61],[-0.58,0.718],[-0.47,0.778],[-0.36,0.761],[-0.17,0.631],[0.02,0.5],[0.25,0.329],[0.55,0.156],[0.74,0.074],[1.01,0.026],[1.39,0.011],[1.96,0]];
const dens07=[[-4.41,0],[-3.83,0.0025],[-3.5,0.01],[-3.17,0.015],[-2.72,0.054],[-2.39,0.109],[-2.06,0.213],[-1.83,0.256],[-1.5,0.355],[-1.22,0.416],[-0.94,0.444],[-0.61,0.4],[-0.33,0.373],[0,0.287],[0.39,0.164],[0.78,0.066],[1.06,0.017],[1.5,0.0075],[2.06,0.0025],[2.87,0]];
const dens08=[[-3.78,0],[-2.97,0.006],[-2.4,0.024],[-2.06,0.055],[-1.72,0.092],[-1.38,0.159],[-1.03,0.232],[-0.69,0.343],[-0.47,0.428],[-0.35,0.443],[-0.07,0.422],[0.27,0.398],[0.56,0.355],[0.9,0.245],[1.24,0.171],[1.58,0.086],[1.92,0.043],[2.26,0.031],[2.6,0.0098],[3.06,0.004],[3.63,0]];
const dens09=[[-2.58,0],[-2.0,0.009],[-1.77,0.048],[-1.57,0.059],[-1.37,0.114],[-1.17,0.224],[-0.97,0.421],[-0.77,0.596],[-0.57,0.746],[-0.43,0.794],[-0.24,0.728],[-0.01,0.596],[0.16,0.465],[0.36,0.29],[0.56,0.136],[0.83,0.059],[1.02,0.026],[1.29,0.004],[1.76,0]];
const dens10=[[-2.32,0],[-1.64,0.003],[-1.35,0.012],[-1.07,0.037],[-0.83,0.052],[-0.5,0.145],[-0.22,0.269],[0.02,0.392],[0.26,0.485],[0.63,0.559],[1.01,0.523],[1.2,0.454],[1.44,0.253],[1.67,0.199],[2.01,0.083],[2.24,0.048],[2.53,0.029],[3.0,0.006],[3.88,0]];
const dens11=[[-2.92,0],[-2.42,0.005],[-2.14,0.014],[-1.87,0.032],[-1.66,0.058],[-1.52,0.104],[-1.39,0.207],[-1.18,0.392],[-0.97,0.53],[-0.83,0.669],[-0.7,0.795],[-0.56,0.835],[-0.42,0.83],[-0.32,0.761],[-0.18,0.576],[0,0.45],[0.2,0.207],[0.48,0.069],[0.75,0.023],[1.03,0.005],[1.58,0]];
const dens12=[[-2.21,0],[-1.74,0.004],[-1.52,0.024],[-1.37,0.053],[-1.22,0.083],[-0.99,0.18],[-0.8,0.25],[-0.58,0.418],[-0.35,0.576],[-0.15,0.71],[0.02,0.699],[0.17,0.685],[0.36,0.537],[0.66,0.379],[0.89,0.241],[1.07,0.093],[1.34,0.03],[1.79,0.008],[2.71,0]];
const dens13=[[-1.5,0],[-1.0,0.005],[-0.71,0.011],[-0.52,0.052],[-0.32,0.175],[-0.13,0.393],[0.03,0.694],[0.19,0.94],[0.32,0.989],[0.49,0.981],[0.65,0.858],[0.84,0.557],[1.0,0.311],[1.17,0.175],[1.36,0.066],[1.62,0.025],[2.01,0.008],[2.46,0.008],[2.74,0]];
const dens14=[[-0.26,0],[-0.17,0.03],[-0.13,0.146],[-0.1,0.36],[-0.07,0.87],[-0.05,1.46],[-0.026,2.62],[-0.001,3.94],[0.024,4.81],[0.048,5.17],[0.068,5.28],[0.093,5.1],[0.118,4.52],[0.138,3.64],[0.152,2.62],[0.182,1.9],[0.207,0.95],[0.232,0.58],[0.257,0.22],[0.287,0.073],[0.346,0.03],[0.39,0]];
const dens15=[[-1.15,0],[-1.0,0.014],[-0.876,0.007],[-0.753,0.014],[-0.68,0.068],[-0.618,0.115],[-0.557,0.385],[-0.483,0.79],[-0.434,1.03],[-0.36,1.5],[-0.312,2.0],[-0.263,2.34],[-0.221,2.43],[-0.164,2.24],[-0.09,1.97],[-0.042,1.57],[0.007,1.09],[0.081,0.62],[0.13,0.35],[0.204,0.216],[0.265,0.068],[0.351,0.027],[0.456,0]];
const dens16=[[-4.56,0],[-4.04,0.002],[-3.78,0.008],[-3.57,0.012],[-3.36,0.047],[-3.14,0.07],[-2.93,0.115],[-2.71,0.202],[-2.5,0.299],[-2.24,0.454],[-2.07,0.571],[-1.9,0.619],[-1.65,0.703],[-1.52,0.687],[-1.31,0.542],[-1.05,0.338],[-0.84,0.144],[-0.58,0.056],[-0.32,0.017],[0.06,0.004],[0.49,0.004],[1.02,0]];
const dens17=[[-7.08,0],[-4.27,0.001],[-3.59,0.004],[-2.9,0.0115],[-1.88,0.0226],[-1.2,0.0376],[-0.17,0.0853],[0.85,0.125],[1.71,0.16],[2.22,0.182],[3.08,0.176],[4.1,0.146],[4.96,0.11],[5.98,0.055],[7.0,0.025],[8.03,0.01],[9.4,0.0015],[10.4,0.0015],[13.16,0.001],[15.3,0]];
const dens18=[[-7.78,0],[-6.44,0.0037],[-5.69,0.0067],[-5.32,0.0127],[-4.94,0.0276],[-4.57,0.046],[-4.1,0.076],[-3.64,0.121],[-3.17,0.166],[-2.8,0.214],[-2.33,0.248],[-1.77,0.27],[-1.21,0.251],[-0.84,0.233],[-0.47,0.196],[-0.09,0.143],[0.28,0.102],[0.75,0.069],[1.21,0.031],[1.77,0.0104],[2.52,0.0052],[3.27,0.001],[4.44,0]];
const dens19=[[-0.22,0],[-0.014,0.005],[0.12,0.018],[0.224,0.155],[0.31,0.268],[0.36,0.427],[0.445,1.02],[0.496,1.2],[0.58,1.52],[0.666,1.645],[0.733,1.61],[0.8,1.54],[0.886,1.2],[0.988,0.882],[1.09,0.518],[1.175,0.336],[1.29,0.132],[1.4,0.082],[1.5,0.018],[1.58,0.009],[1.68,0.014],[1.79,0.005],[2.0,0]];
const dens20=[[-1.43,0],[-1.21,0.003],[-1.08,0.024],[-0.95,0.062],[-0.82,0.11],[-0.74,0.165],[-0.65,0.275],[-0.54,0.395],[-0.46,0.62],[-0.35,0.93],[-0.24,1.1],[-0.16,1.186],[-0.1,1.244],[-0.01,1.15],[0.1,1.065],[0.2,0.86],[0.33,0.48],[0.46,0.258],[0.61,0.103],[0.76,0.045],[0.91,0.01],[1.37,0]];
const dens21=[[-4.21,0],[-2.97,0.005],[-2.52,0.0145],[-2.06,0.0386],[-1.61,0.079],[-1.38,0.1],[-1.0,0.175],[-0.7,0.243],[-0.39,0.291],[-0.17,0.315],[0.06,0.33],[0.44,0.349],[0.74,0.335],[1.2,0.272],[1.58,0.185],[1.88,0.127],[2.26,0.089],[2.71,0.036],[3.09,0.019],[3.55,0.0116],[4.0,0.002],[4.91,0.001],[5.71,0]];
const dens22=[[-9.32,0],[-5.08,0.001],[-4.13,0.003],[-3.37,0.011],[-2.42,0.02],[-1.67,0.033],[-0.9,0.055],[0.04,0.09],[0.98,0.126],[1.74,0.148],[2.5,0.156],[3.07,0.16],[3.64,0.153],[4.58,0.122],[5.34,0.1],[6.29,0.062],[7.42,0.035],[8.56,0.012],[9.7,0.005],[10.8,0.001],[13.9,0.0005],[15.5,0]];
const dens23=[[-7.1,0],[-5.3,0.0013],[-4.3,0.006],[-3.54,0.014],[-3.03,0.028],[-2.53,0.05],[-2.02,0.081],[-1.52,0.106],[-1.01,0.144],[-0.51,0.181],[-0.13,0.209],[0.25,0.226],[0.76,0.216],[1.39,0.206],[1.77,0.194],[2.27,0.144],[2.78,0.112],[3.28,0.081],[3.92,0.0375],[4.68,0.0156],[5.43,0.003],[7.08,0.0013],[9.4,0]];
const dens24=[[-4.04,0],[-1.86,0.0012],[-1.15,0.006],[-0.44,0.013],[0.15,0.022],[0.63,0.043],[1.22,0.085],[1.93,0.127],[2.52,0.156],[3.0,0.192],[3.59,0.215],[4.06,0.212],[4.54,0.214],[5.01,0.204],[5.6,0.15],[6.2,0.091],[6.79,0.061],[7.38,0.031],[8.09,0.01],[9.04,0.0024],[11.5,0]];
const dens25=[[-4.8,0],[-3.03,0.0007],[-2.39,0.006],[-1.96,0.016],[-1.52,0.033],[-1.09,0.05],[-0.66,0.084],[-0.12,0.118],[0.42,0.158],[0.95,0.205],[1.39,0.232],[1.67,0.245],[2.14,0.239],[2.79,0.226],[3.33,0.185],[3.97,0.111],[4.51,0.077],[5.05,0.036],[5.7,0.0115],[6.45,0.004],[7.31,0.0034],[8.17,0.0014],[9.3,0]];
const dens26=[[0.0438,0],[0.0527,0.16],[0.057,1.19],[0.0612,3.17],[0.0646,5.56],[0.068,10.3],[0.0714,16.7],[0.0748,22.2],[0.0782,25.4],[0.0816,26.6],[0.0859,28.7],[0.0884,28.2],[0.0918,26.2],[0.0961,23.4],[0.1003,17.5],[0.1046,12.7],[0.1097,7.94],[0.1139,4.76],[0.1182,3.17],[0.1224,2.38],[0.1292,0.95],[0.1343,0.4],[0.1411,0.4],[0.1462,0.16],[0.1553,0]];
const dens27=[[0.6752,0],[0.6914,0.31],[0.6967,0.55],[0.702,1.33],[0.7063,2.9],[0.7116,6.4],[0.7152,8.36],[0.7187,12.7],[0.7222,17.3],[0.7257,20.9],[0.7301,24.0],[0.7336,27.3],[0.7363,28.1],[0.7398,27.5],[0.7433,27.1],[0.7477,21.25],[0.753,15.0],[0.7583,9.5],[0.7627,5.6],[0.7671,3.3],[0.7724,0.94],[0.7794,0.31],[0.7905,0]];
const dens28=[[1.46,0],[1.77,0.004],[1.98,0.02],[2.13,0.064],[2.31,0.175],[2.49,0.34],[2.67,0.517],[2.82,0.716],[2.91,0.765],[3.06,0.8],[3.15,0.787],[3.3,0.694],[3.48,0.605],[3.6,0.517],[3.78,0.362],[3.96,0.23],[4.11,0.12],[4.29,0.086],[4.47,0.053],[4.68,0.013],[4.95,0.004],[5.38,0]];
const dens29=[[3.79,0],[4.53,0.0006],[5.05,0.0064],[5.58,0.0208],[6.02,0.041],[6.46,0.0786],[6.9,0.125],[7.34,0.183],[7.78,0.246],[8.19,0.3],[8.57,0.281],[9.01,0.24],[9.54,0.2],[9.98,0.16],[10.5,0.1075],[10.95,0.09],[11.38,0.05],[11.82,0.0208],[12.35,0.0075],[12.96,0.0023],[13.49,0.0023],[14.02,0.0029],[14.54,0.0012],[15.3,0]];
const dens30=[[-0.00716,0],[-0.0044,0.19],[-0.00286,1.48],[-0.00184,4.26],[-0.00082,10.7],[0.0002,22.8],[0.00123,37.6],[0.00276,45.0],[0.0048,48.1],[0.00685,45.9],[0.0094,41.3],[0.01247,35.7],[0.01554,33.0],[0.01758,30.2],[0.02065,23.7],[0.02371,17.2],[0.02678,12.1],[0.02985,8.15],[0.03292,6.1],[0.037,2.87],[0.04007,1.02],[0.04518,0.74],[0.05131,0.37],[0.0598,0]];

const traceYTickLabels=[["-5.0","-2.5","0.0","2.5","5.0"],["-0.5","0.0","0.5","1.0","1.5"],["-3","-2","-1","0","1","2"],["-10","-5","0","5","10"],["-4","-2","0","2","4"],["-2","-1","0","1"],["-3","-2","-1","0","1","2"],["-3","-2","-1","0","1","2","3"],["-2","-1","0","1"],["-1","0","1","2","3"],["-2","-1","0","1"],["-1","0","1","2"],["-1","0","1","2"],["-0.2","-0.1","0.0","0.1","0.2","0.3"],["-1.0","-0.8","-0.6","-0.4","-0.2","0.0","0.2"],["-4","-3","-2","-1","0"],["-5","0","5","10"],["-6","-4","-2","0","2"],["0.0","0.5","1.0","1.5"],["-1.0","-0.5","0.0","0.5","1.0"],["-2","0","2","4"],["-5","0","5","10"],["-5.0","-2.5","0.0","2.5","5.0","7.5"],["-2","0","2","4","6","8","10"],["-2.5","0.0","2.5","5.0","7.5"],["0.06","0.08","0.10","0.12","0.14"],["0.70","0.72","0.74","0.76","0.78"],["2","3","4","5"],["6","8","10","12","14"],["0.00","0.01","0.02","0.03","0.04","0.05"]];
const densXTickLabels=[["-6","-3","0","3","6"],["-0.5","0.0","0.5","1.0","1.5"],["-4","-3","-2","-1","0","1","2"],["-10","-5","0","5","10"],["-4","-2","0","2","4"],["-3","-2","-1","0","1","2"],["-4","-2","0","2"],["-3","-2","-1","0","1","2","3"],["-2","-1","0","1"],["-2","-1","0","1","2","3","4"],["-3","-2","-1","0","1"],["-2","-1","0","1","2"],["-1","0","1","2"],["-0.2","-0.1","0.0","0.1","0.2","0.3","0.4"],["-0.9","-0.6","-0.3","0.0","0.3"],["-4","-3","-2","-1","0","1"],["-5","0","5","10","15"],["-7.5","-5.0","-2.5","0.0","2.5"],["0.0","0.5","1.0","1.5","2.0"],["-1.5","-1.0","-0.5","0.0","0.5","1.0"],["-2.5","0.0","2.5","5.0"],["-10","-5","0","5","10","15"],["-6","-4","-2","0","2","4","6","8"],["-3","0","3","6","9"],["-4","-2","0","2","4","6","8"],["0.06","0.08","0.10","0.12","0.14"],["0.675","0.700","0.725","0.750","0.775"],["2","3","4","5"],["5.0","7.5","10.0","12.5","15.0"],["0.00","0.01","0.02","0.03","0.04","0.05","0.06"]];
const densYTickLabels=[["0.00","0.05","0.10","0.15","0.20"],["0.00","0.25","0.50","0.75","1.00","1.25"],["0.0","0.1","0.2","0.3","0.4","0.5"],["0.00","0.02","0.04","0.06","0.08","0.10"],["0.0","0.1","0.2","0.3"],["0.0","0.2","0.4","0.6","0.8"],["0.0","0.1","0.2","0.3","0.4"],["0.0","0.1","0.2","0.3","0.4"],["0.0","0.2","0.4","0.6","0.8"],["0.0","0.1","0.2","0.3","0.4","0.5"],["0.0","0.2","0.4","0.6","0.8"],["0.0","0.2","0.4","0.6"],["0.00","0.25","0.50","0.75","1.00"],["0","1","2","3","4","5"],["0.0","0.5","1.0","1.5","2.0","2.5"],["0.0","0.2","0.4","0.6"],["0.00","0.05","0.10","0.15"],["0.00","0.05","0.10","0.15","0.20","0.25"],["0.0","0.5","1.0","1.5"],["0.0","0.2","0.4","0.6","0.8","1.0"],["0.0","0.1","0.2","0.3"],["0.00","0.05","0.10","0.15"],["0.00","0.05","0.10","0.15","0.20"],["0.00","0.05","0.10","0.15","0.20"],["0.00","0.05","0.10","0.15","0.20","0.25"],["0","5","10","15","20","25"],["0","5","10","15","20","25"],["0.0","0.2","0.4","0.6","0.8"],["0.0","0.1","0.2","0.3"],["0","10","20","30","40"]];

const traces=[trace01,trace02,trace03,trace04,trace05,trace06,trace07,trace08,trace09,trace10,trace11,trace12,trace13,trace14,trace15,trace16,trace17,trace18,trace19,trace20,trace21,trace22,trace23,trace24,trace25,trace26,trace27,trace28,trace29,trace30];
const densities=[dens01,dens02,dens03,dens04,dens05,dens06,dens07,dens08,dens09,dens10,dens11,dens12,dens13,dens14,dens15,dens16,dens17,dens18,dens19,dens20,dens21,dens22,dens23,dens24,dens25,dens26,dens27,dens28,dens29,dens30];

const BLUE="#009AFA", ROWH=250, TOP=26.5, BOT=210.5;
const svg=d3.select("#c");
function padded(lo,hi){const r=hi-lo;return [lo-0.03*r,hi+0.03*r];}

function panel(g,x0,x1,xDom,yDom,xL,yL,xLab,yLab,title,pathFn){
  const x=d3.scaleLinear().domain(xDom).range([x0,x1]);
  const y=d3.scaleLinear().domain(yDom).range([BOT,TOP]);
  const grid=g.append("g");
  grid.selectAll("line.gx").data(xL).join("line").attr("x1",d=>x(+d)).attr("x2",d=>x(+d)).attr("y1",TOP).attr("y2",BOT).attr("stroke","#000").attr("stroke-opacity",0.1).attr("stroke-width",1);
  grid.selectAll("line.gy").data(yL).join("line").attr("y1",d=>y(+d)).attr("y2",d=>y(+d)).attr("x1",x0).attr("x2",x1).attr("stroke","#000").attr("stroke-opacity",0.1).attr("stroke-width",1);
  pathFn(g,x,y);
  const ax=g.append("g").attr("transform",`translate(0,${BOT})`)
    .call(d3.axisBottom(x).tickValues(xL.map(Number)).tickFormat((d,i)=>xL[i]).tickSize(0).tickSizeOuter(0).tickPadding(6.5));
  ax.select(".domain").attr("stroke","#000").attr("stroke-width",1.7);
  ax.selectAll("text").attr("font-size",10.8).attr("font-family","DejaVu Sans").attr("fill","#000");
  const ay=g.append("g").attr("transform",`translate(${x0},0)`)
    .call(d3.axisLeft(y).tickValues(yL.map(Number)).tickFormat((d,i)=>yL[i]).tickSize(0).tickSizeOuter(0).tickPadding(5.5));
  ay.select(".domain").attr("stroke","#000").attr("stroke-width",1.1);
  ay.selectAll("text").attr("font-size",10.8).attr("font-family","DejaVu Sans").attr("fill","#000");
  let mw=0; ay.selectAll("text").each(function(){mw=Math.max(mw,this.getComputedTextLength());});
  const lx=x0-5.5-mw-14.5, cy=(TOP+BOT)/2;
  g.append("text").attr("transform",`translate(${lx},${cy}) rotate(-90)`).attr("text-anchor","middle").attr("dominant-baseline","central").attr("font-size",15).attr("fill","#000").text(yLab);
  g.append("text").attr("x",(x0+x1)/2).attr("y",BOT+32).attr("text-anchor","middle").attr("font-size",15).attr("fill","#000").text(xLab);
  g.append("text").attr("x",(x0+x1)/2).attr("y",19).attr("text-anchor","middle").attr("font-size",19.4).attr("fill","#000").text(title);
}

titles.forEach((t,r)=>{
  const g=svg.append("g").attr("transform",`translate(0,${r*ROWH})`);
  const tr=traces[r], n=tr.length;
  const tx=i=>1+i*1999/(n-1);
  panel(g.append("g"),54,497,padded(1,2000),padded(d3.min(tr),d3.max(tr)),iterTickLabels,traceYTickLabels[r],"Iteration","Sample value",t,
    (gg,x,y)=>{gg.append("path").datum(tr).attr("fill","none").attr("stroke",BLUE).attr("stroke-width",1.9).attr("stroke-linejoin","round")
      .attr("d",d3.line().x((d,i)=>x(tx(i))).y(d=>y(d)));});
  const de=densities[r];
  panel(g.append("g"),554,997,padded(d3.min(de,d=>d[0]),d3.max(de,d=>d[0])),padded(0,d3.max(de,d=>d[1])),densXTickLabels[r],densYTickLabels[r],"Sample value","Density",t,
    (gg,x,y)=>{gg.append("path").datum(de).attr("fill","none").attr("stroke",BLUE).attr("stroke-width",1.6)
      .attr("d",d3.line().x(d=>x(d[0])).y(d=>y(d[1])).curve(d3.curveMonotoneX));});
});
</script></body></html>
